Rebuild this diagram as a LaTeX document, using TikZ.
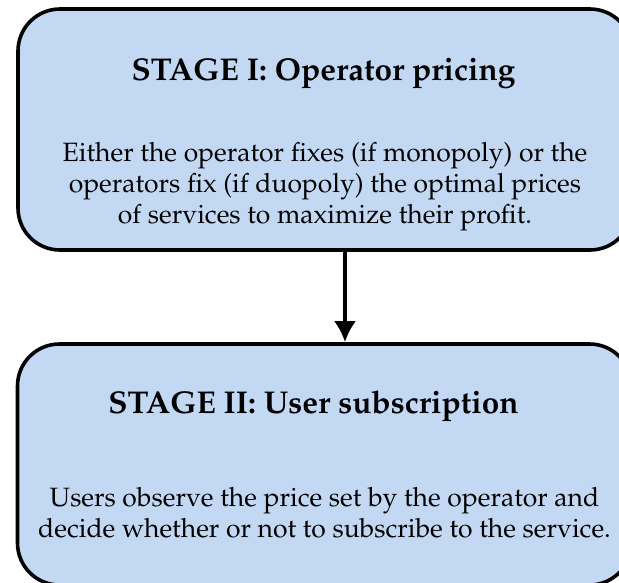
\documentclass[tikz,border=0pt]{standalone}
\usepackage[T1]{fontenc}
\usepackage{mathpazo}
\usetikzlibrary{arrows.meta}
\definecolor{stagefill}{RGB}{195,217,243}
\begin{document}
\begin{tikzpicture}[x=1pt,y=-1pt,
  stagebox/.style={draw=black, fill=stagefill, line width=3.6pt,
    rounded corners=42pt, minimum width=614pt, minimum height=241pt,
    inner sep=0pt},
  stagetitle/.style={font=\fontsize{31.5}{36}\selectfont\bfseries, inner sep=0pt, anchor=base},
  stagetext/.style={font=\fontsize{26.5}{31}\selectfont, align=center, inner sep=0pt},
  flow/.style={line width=3.6pt, -{Latex[length=21pt,width=22pt]}}
]
\useasboundingbox (0,0) rectangle (619,582);
\clip (0,0) rectangle (619,582);

% stage boxes
\node[stagebox] (top) at (325,129.5) {};
\node[stagebox] (bot) at (324.5,464.5) {};

% stage I
\node[stagetitle] (t1) at (323.5,80) {STAGE I: Operator pricing};
\node[stagetext] (d1) at (325,187) {Either the operator fixes (if monopoly) or the\\
  operators fix (if duopoly) the optimal prices\\
  of services to maximize their profit.};

% stage II
\node[stagetitle] (t2) at (313.5,413) {STAGE II: User subscription};
\node[stagetext] (d2) at (324.5,513) {Users observe the price set by the operator and\\
  decide whether or not to subscribe to the service.};

% transition between the stages
\coordinate (ax) at (345,0);
\draw[flow] (top.south -| ax) -- (bot.north -| ax);
\end{tikzpicture}
\end{document}
